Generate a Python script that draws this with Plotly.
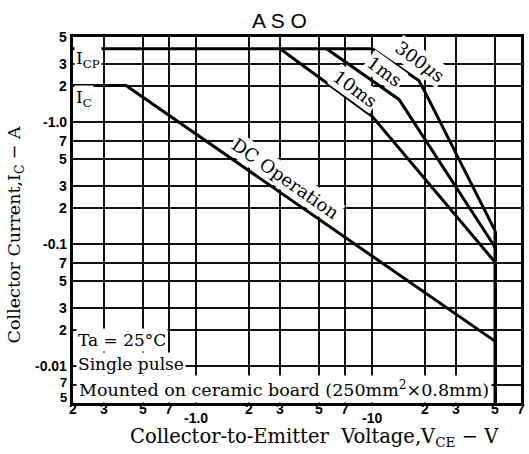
import math
import plotly.graph_objects as go

# ---- data (magnitudes; axes labelled with negative sign as in the datasheet) ----
dc_v = [0.2, 0.4, 50]
dc_i = [2, 2, 0.016]
ms10_v = [3, 10, 50]
ms10_i = [4, 1.12, 0.071]
ms1_v = [5.5, 14.2, 50]
ms1_i = [4, 1.54, 0.094]
us300_v = [10, 18.4, 20, 50]
us300_i = [4, 2.2, 1.76, 0.128]
icp_v = [0.2, 10]
icp_i = [4, 4]
vceo_v = [50, 50]
vceo_i = [0.128, 0.005]

x_grid = [0.3, 0.5, 0.7, 1, 2, 3, 5, 7, 10, 20, 30, 50]
y_grid = [0.007, 0.01, 0.02, 0.03, 0.05, 0.07, 0.1, 0.2, 0.3, 0.5, 0.7, 1, 2, 3]

x_minor_vals = [0.2, 0.3, 0.5, 0.7, 2, 3, 5, 7, 20, 30, 50, 70]
x_minor_text = ["2", "3", "5", "7", "2", "3", "5", "7", "2", "3", "5", "7"]
x_major_vals = [1, 10]
x_major_text = ["-1.0", "-10"]
y_tick_vals = [5, 3, 2, 1, 0.7, 0.5, 0.3, 0.2, 0.1, 0.07, 0.05, 0.03, 0.02, 0.01, 0.007, 0.005]
y_tick_text = ["5", "3", "2", "-1.0", "7", "5", "3", "2", "-0.1", "7", "5", "3", "2", "-0.01", "7", "5"]

XR = [math.log10(0.2), math.log10(70)]
YR = [math.log10(0.005), math.log10(5)]

fig = go.Figure()
lw = 3
for xs, ys in [(icp_v, icp_i), (dc_v, dc_i), (ms10_v, ms10_i), (ms1_v, ms1_i), (us300_v, us300_i)]:
    fig.add_trace(go.Scatter(x=xs, y=ys, mode="lines", line=dict(color="black", width=lw),
                             showlegend=False, hoverinfo="skip"))
fig.add_trace(go.Scatter(x=vceo_v, y=vceo_i, mode="lines", line=dict(color="black", width=3.5),
                         showlegend=False, hoverinfo="skip"))

serif = "DejaVu Serif"
sans = "Liberation Sans"
ann = []

def A(**k):
    d = dict(showarrow=False, xanchor="center", yanchor="middle")
    d.update(k)
    ann.append(d)

# tick labels
for v, t in zip(x_minor_vals, x_minor_text):
    A(x=math.log10(v), y=(403 - 409) / 366, xref="x", yref="paper", text="<b>%s</b>" % t,
      font=dict(family=sans, size=14, color="black"))
for v, t in zip(x_major_vals, x_major_text):
    A(x=math.log10(v), y=(403 - 418) / 366, xref="x", yref="paper", text="<b>%s</b>" % t,
      font=dict(family=sans, size=14, color="black"))
for v, t in zip(y_tick_vals, y_tick_text):
    ys = 0
    sz = 14
    if v == 0.007:
        ys, sz = 3, 13
    if v == 0.005:
        ys, sz = 6, 13
    A(x=-0.008, y=math.log10(v), xref="paper", yref="y", text="<b>%s</b>" % t, xanchor="right",
      yshift=ys, font=dict(family=sans, size=sz, color="black"))

# title and axis titles
A(x=(281 - 73) / 451, y=(403 - 21) / 366, xref="paper", yref="paper", text="A S O",
  font=dict(family=sans, size=21, color="black"))
A(x=(316 - 73) / 451, y=(403 - 437) / 366, xref="paper", yref="paper",
  text="Collector-to-Emitter  Voltage,V<sub>CE</sub> − V", font=dict(family=serif, size=19.5, color="black"))
A(x=(16 - 73) / 451, y=(403 - 235) / 366, xref="paper", yref="paper", textangle=-90,
  text="Collector Current,I<sub>C</sub> − A", font=dict(family=serif, size=17.5, color="black"))

# in-plot labels with white background
def lab(px, py, text, xanchor="left", angle=0, size=17, pad=1):
    A(x=(px - 73) / 451, y=(403 - py) / 366, xref="paper", yref="paper", text=text,
      xanchor=xanchor, textangle=angle, bgcolor="white", borderpad=pad,
      font=dict(family=serif, size=size, color="black"))

lab(74, 60, "I<sub>CP</sub>")
lab(74, 99, "I<sub>C</sub>")
lab(76, 340, "Ta = 25°C")
lab(76, 364, "Single pulse")
lab(76, 389, "Mounted on ceramic board (250mm<sup>2</sup>×0.8mm)", pad=2, size=17.5)
lab(287, 178, "DC Operation", xanchor="center", angle=35, size=18)
lab(357, 88, "10ms", xanchor="center", angle=36, size=18)
lab(387, 71, "1ms", xanchor="center", angle=36, size=18)
lab(422, 62, "300<i>μ</i>s", xanchor="center", angle=36, size=18)

fig.update_layout(
    width=529, height=454,
    margin=dict(l=73, r=5, t=37, b=51),
    paper_bgcolor="white", plot_bgcolor="white",
    annotations=ann,
    xaxis=dict(type="log", range=XR, tickvals=x_grid, showticklabels=False, ticks="",
               showgrid=True, gridcolor="#111", gridwidth=1.6,
               showline=True, mirror=True, linecolor="black", linewidth=2.5, zeroline=False),
    yaxis=dict(type="log", range=YR, tickvals=y_grid, showticklabels=False, ticks="",
               showgrid=True, gridcolor="#111", gridwidth=1.6,
               showline=True, mirror=True, linecolor="black", linewidth=2.5, zeroline=False),
)

fig.write_html("out.html")
